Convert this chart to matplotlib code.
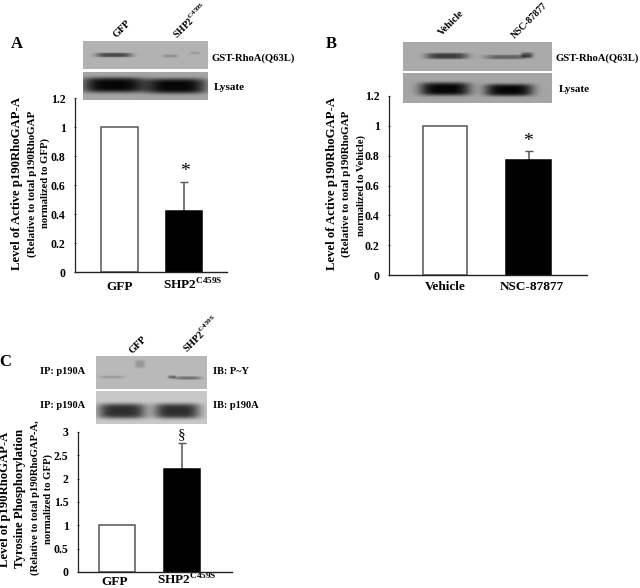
import numpy as np
import matplotlib
matplotlib.use("Agg")
import matplotlib.pyplot as plt

plt.rcParams["font.family"] = ["Liberation Serif", "DejaVu Serif"]
plt.rcParams["font.weight"] = "bold"
plt.rcParams["mathtext.fontset"] = "custom"
plt.rcParams["mathtext.bf"] = "Liberation Serif:bold"
plt.rcParams["mathtext.rm"] = "Liberation Serif:bold"

## Data
labels_a = ["GFP", r"SHP2$^{\mathbf{C459S}}$"]
values_a = [1.0, 0.42]
errors_a = [0.0, 0.20]
ticks_a = [0, 0.2, 0.4, 0.6, 0.8, 1, 1.2]

labels_b = ["Vehicle", "NSC-87877"]
values_b = [1.0, 0.77]
errors_b = [0.0, 0.06]
ticks_b = [0, 0.2, 0.4, 0.6, 0.8, 1, 1.2]

labels_c = ["GFP", r"SHP2$^{\mathbf{C459S}}$"]
values_c = [1.0, 2.2]
errors_c = [0.0, 0.57]
ticks_c = [0, 0.5, 1, 1.5, 2, 2.5, 3]

W, H = 640, 588
AXIS_GRAY = "#555555"
AXIS_DARK = "#222222"

fig = plt.figure(figsize=(W / 100, H / 100), dpi=100)
fig.patch.set_facecolor("white")

# overlay in pixel coordinates for blots and text
over = fig.add_axes([0, 0, 1, 1], zorder=1)
over.set_axis_off()


def blot(x0, x1, y0, y1, bg, bands):
    # bands: (x centre, half width, y centre, half height, darkness)
    nx, ny = int(x1 - x0), int(y1 - y0)
    xs = np.arange(nx) + x0 + 0.5
    ys = np.arange(ny) + y0 + 0.5
    xx, yy = np.meshgrid(xs, ys)
    img = np.full((ny, nx), float(bg))
    for cx, hw, cy, hh, dark in bands:
        r = ((xx - cx) / hw) ** 4 + ((yy - cy) / hh) ** 4
        img -= dark * np.exp(-r)
    over.imshow(np.clip(img, 0, 255), extent=(x0, x1, y1, y0), cmap="gray", vmin=0, vmax=255,
                aspect="auto", interpolation="bilinear")


def panel(left, right, top, bottom, ymax, xlim, values, errors, ticks, width):
    ax = fig.add_axes([left / W, 1 - bottom / H, (right - left) / W, (bottom - top) / H], zorder=2)
    ax.patch.set_alpha(0)
    ax.bar([0, 1], values, width=width, color=["white", "black"], edgecolor=[AXIS_GRAY, "black"],
           linewidth=1.1, zorder=2)
    # lower cap stays hidden behind the black bar
    ax.errorbar([1], values[1], yerr=[[0], [errors[1]]], color=AXIS_GRAY, capsize=3, linewidth=1.1,
                capthick=1, zorder=1)
    ax.set_xlim(xlim)
    ax.set_ylim(0, ymax)
    ax.set_yticks(ticks)
    ax.set_yticklabels(["%g" % t for t in ticks], fontsize=8.5, fontweight="bold")
    ax.set_xticks([])
    ax.tick_params(axis="y", length=1.5, width=0.6, direction="inout", color=AXIS_DARK, pad=6)
    ax.spines["top"].set_visible(False)
    ax.spines["right"].set_visible(False)
    ax.spines["left"].set_color(AXIS_DARK)
    ax.spines["bottom"].set_color(AXIS_DARK)
    ax.spines["left"].set_linewidth(0.9)
    ax.spines["bottom"].set_linewidth(1.0)
    return ax


def label(x, y, s, size=7.5, rot=0, ha="center", va="center", weight="bold"):
    over.text(x, y, s, fontsize=size, rotation=rot, ha=ha, va=va, fontweight=weight,
              rotation_mode="anchor" if rot == 45 else "default")


## Blots
blot(83, 208, 41, 69, 178, [(114, 18, 55, 2.2, 105), (170, 8, 56, 1.6, 35), (195, 5, 53, 1.4, 25)])
blot(83, 208, 72, 100, 165, [(114, 31, 85, 7.5, 160), (176, 30, 86, 7.5, 160)])
blot(403, 552, 42, 71, 170, [(447, 21, 56, 3, 110), (507, 22, 57, 2.2, 70), (527, 6, 55, 2.6, 80)])
blot(403, 552, 73, 103, 165, [(445, 25, 89, 6.5, 160), (509, 24, 90, 6, 160)])
blot(96, 207, 356, 389, 185, [(112, 12, 377, 1.5, 30), (140, 5, 364, 4, 35), (172, 4, 377, 1.6, 70),
                              (188, 13, 378, 1.7, 70)])
blot(96, 207, 391, 424, 200, [(122, 24, 411, 7.5, 155), (177, 23, 411, 7.5, 155)])

## Bar panels
panel(75, 227, 98, 272, 1.2, (-0.69, 1.67), values_a, errors_a, ticks_a, 0.566)
panel(389, 587, 96, 275, 1.2, (-0.67, 1.70), values_b, errors_b, ticks_b, 0.533)
panel(78, 232, 432, 572, 3, (-0.6, 1.77), values_c, errors_c, ticks_c, 0.554)

## Panel letters
label(17, 44, "A", size=12)
label(331, 44, "B", size=12)
label(5, 362, "C", size=12)

## Panel A text
label(120, 290, labels_a[0], size=9.5, va="baseline")
label(193, 290, labels_a[1], size=9.5, va="baseline")
label(118, 39, "GFP", size=7.5, rot=45, ha="left", va="bottom")
label(179, 41, labels_a[1], size=7, rot=45, ha="left", va="bottom")
label(211, 58, "GST-RhoA(Q63L)", size=7.7, ha="left")
label(214, 88, "Lysate", size=8, ha="left")
label(17, 183, "Level of Active p190RhoGAP-A", size=9.2, rot=90)
label(32, 184, "(Relative to total p190RhoGAP", size=7.9, rot=90)
label(45, 183, "normalized to GFP)", size=7.7, rot=90)
label(185, 172, "*", size=14, weight="normal")

## Panel B text
label(445, 290, labels_b[0], size=9.5, va="baseline")
label(532, 290, labels_b[1], size=9.5, va="baseline")
label(443, 37, "Vehicle", size=7.5, rot=45, ha="left", va="bottom")
label(516, 40, "NSC-87877", size=6.9, rot=45, ha="left", va="bottom")
label(556, 58, "GST-RhoA(Q63L)", size=7.7, ha="left")
label(559, 89, "Lysate", size=8, ha="left")
label(332, 183, "Level of Active p190RhoGAP-A", size=9.2, rot=90)
label(346, 184, "(Relative to total p190RhoGAP", size=7.9, rot=90)
label(361, 185, "normalized to Vehicle)", size=7.7, rot=90)
label(528, 142, "*", size=14, weight="normal")

## Panel C text
label(115, 585, labels_c[0], size=9.5, va="baseline")
label(187, 585, labels_c[1], size=9.5, va="baseline")
label(134, 355, "GFP", size=7.5, rot=45, ha="left", va="bottom")
label(189, 355, labels_c[1], size=7.3, rot=45, ha="left", va="bottom")
label(40, 372, "IP: p190A", size=7.5, ha="left")
label(40, 405, "IP: p190A", size=7.5, ha="left")
label(213, 372, "IB: P~Y", size=7.5, ha="left")
label(213, 405, "IB: p190A", size=7.5, ha="left")
label(5, 499, "Level of p190RhoGAP-A", size=9.1, rot=90)
label(20, 498, "Tyrosine Phosphorylation", size=9.1, rot=90)
label(35, 498, "(Relative to total p190RhoGAP-A,", size=7.7, rot=90)
label(48, 499, "normalized to GFP)", size=7.7, rot=90)
label(182, 435, "§", size=11, weight="normal")

over.set_xlim(0, W)
over.set_ylim(H, 0)

fig.savefig("out.png", dpi=100)
